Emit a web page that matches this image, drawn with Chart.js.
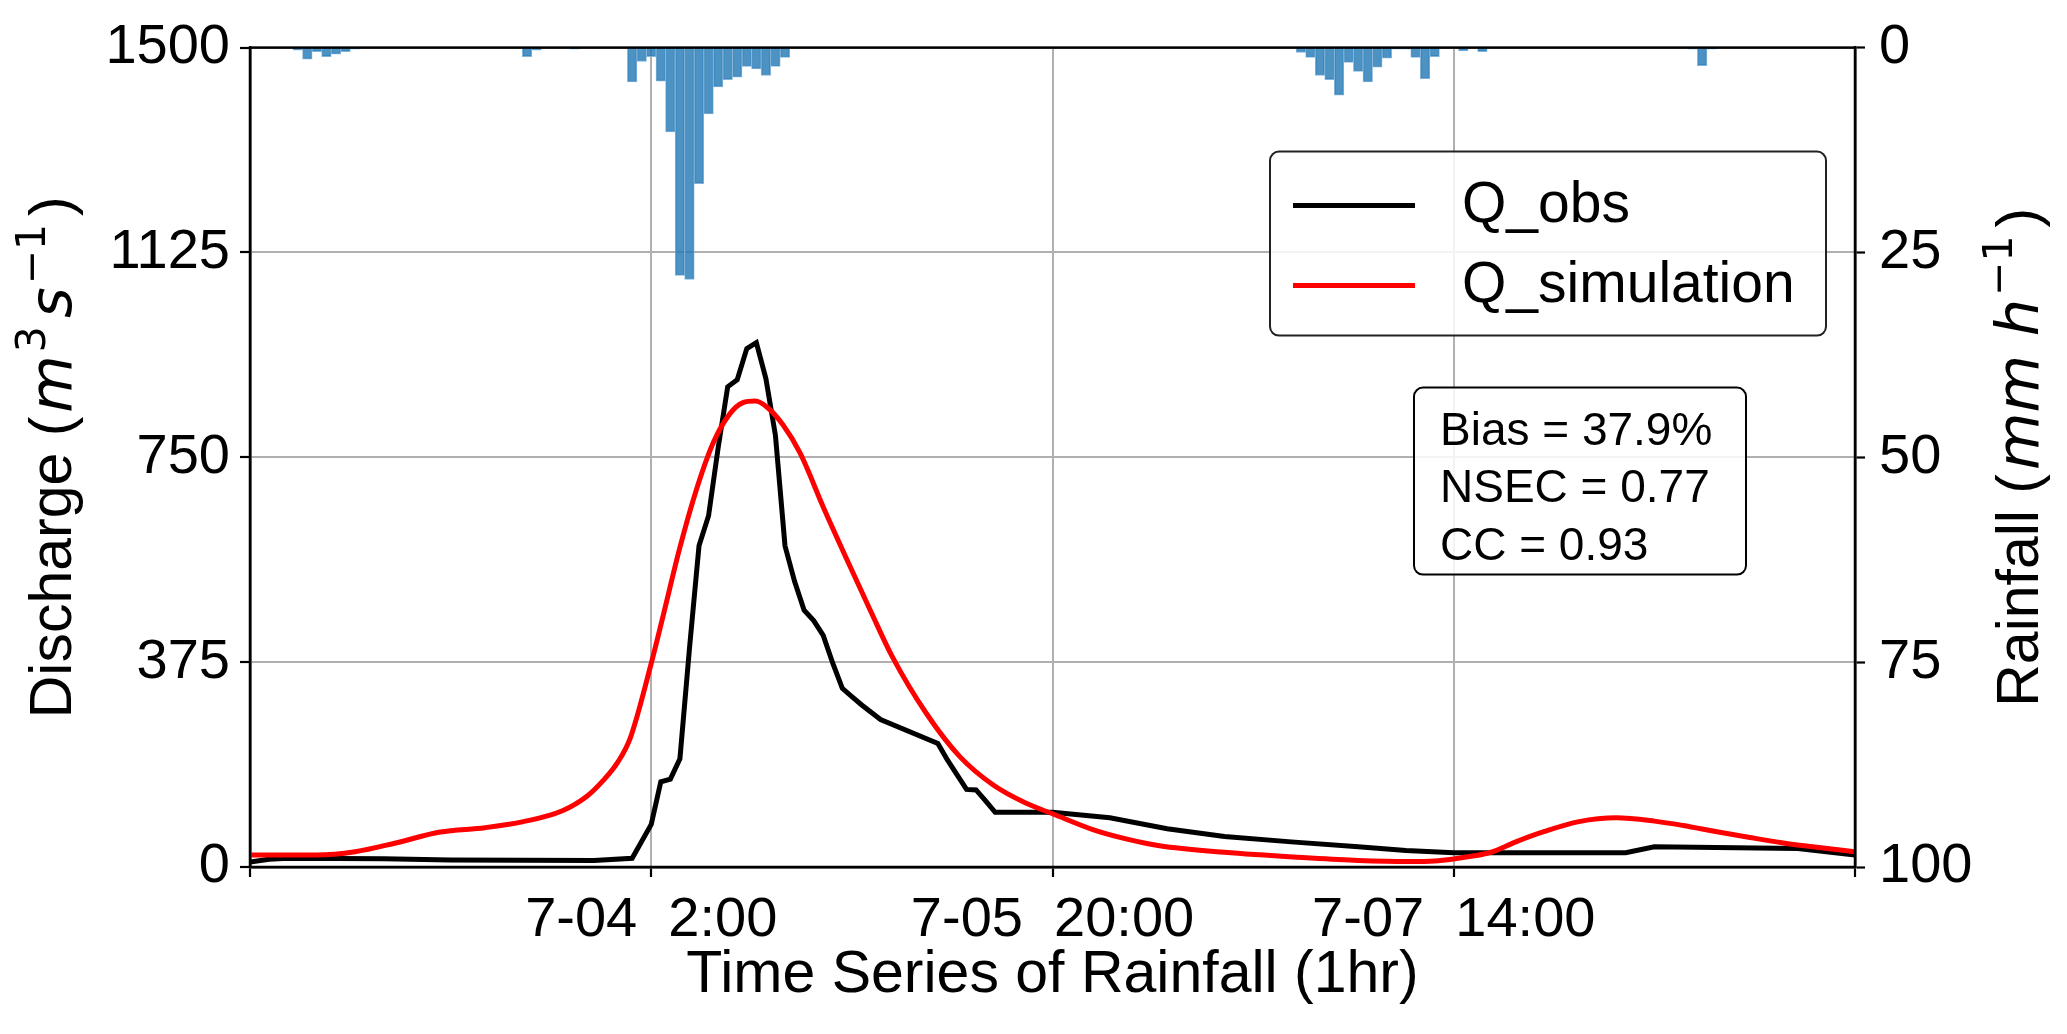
<!DOCTYPE html>
<html>
<head>
<meta charset="utf-8">
<script src="https://cdn.jsdelivr.net/npm/chart.js@4.4.1/dist/chart.umd.min.js"></script>
<style>
  html, body { margin: 0; padding: 0; background: #fff; overflow: hidden; }
  #wrap { position: relative; width: 2067px; height: 1034px; }
</style>
</head>
<body>
<div id="wrap"><canvas id="flowChart"></canvas></div>
<script>
// x values are hours counted from 7-02 08:00 (1 hr steps)
const rainHours = [5, 6, 7, 8, 9, 10, 11, 29, 30, 34,
  40, 41, 42, 43, 44, 45, 46, 47, 48, 49, 50, 51, 52, 53, 54, 55, 56,
  110, 111, 112, 113, 114, 115, 116, 117, 118, 119, 120, 121, 122, 123, 124, 125, 127, 129,
  151, 152, 153];
const rainMm = [0.3, 1.4, 0.5, 1.1, 0.8, 0.5, 0.2, 1.1, 0.3, 0.2,
  4.2, 1.7, 1.1, 4.1, 10.3, 27.8, 28.3, 16.6, 8.1, 4.8, 3.9, 3.6, 2.3, 2.6, 3.4, 2.3, 1.2,
  0.6, 1.2, 3.4, 3.9, 5.8, 1.8, 2.9, 4.2, 2.4, 1.3, 0.2, 0.2, 1.2, 3.8, 1.1, 0.1, 0.4, 0.5,
  0.2, 2.2, 0.2];

const obsHours = [0, 2, 4, 14, 21, 36, 40, 42, 43, 44, 45, 46, 47, 48, 49, 50, 51, 52, 53, 54,
  55, 56, 57, 58, 59, 60, 61, 62, 63, 64, 66, 72, 73, 74, 75, 76, 77, 78, 84, 90,
  96, 102, 109, 116, 121, 126, 144, 147, 162, 168];
const obsFlow = [9, 14, 16, 15, 13, 12, 16, 78, 156, 161, 198, 400, 588, 643, 767, 879, 892, 949, 960, 894,
  790, 588, 523, 470, 451, 424, 373, 327, 312, 297, 270, 226, 196, 169, 142, 141, 121, 100, 100, 90,
  70, 56, 46, 37, 30, 26, 26, 37, 34, 22];

const simHours = [0, 4, 7, 11, 15.25, 19.9, 24.6, 28.6, 32.7, 35.3, 37, 38.5, 39.8, 42, 43.3, 45, 46.75, 48.5, 50.2,
  51.6, 52.9, 54.1, 55.8, 57.6, 60, 62.5, 64.9, 67.2, 70.8, 74.3, 77.8, 81.2, 84, 88.3, 91.8, 95.2,
  102, 110.6, 116, 121.3, 124, 126.1, 128, 129.9, 132.5, 135.5, 139.1, 143, 147, 150, 153.4, 157, 160.5, 164, 168];
const simFlow = [22, 22, 22, 28, 44, 64, 72, 83, 103, 130, 159, 192, 236, 373, 464, 585, 692, 777, 829,
  850, 853, 842, 809, 757, 659, 562, 471, 386, 281, 202, 150, 117, 97.5, 68, 51, 39,
  27, 17, 12, 10, 11, 15, 20, 27, 46, 65, 83, 90, 84, 76, 65, 54, 44, 36, 28];

const xTickHours = [0, 42, 84, 126, 168];
const xTickLabels = ['', '7-04  2:00', '7-05  20:00', '7-07  14:00', ''];
const dischargeTicks = [0, 375, 750, 1125, 1500];
const rainTicks = [0, 25, 50, 75, 100];
const statsLines = ['Bias = 37.9%', 'NSEC = 0.77', 'CC = 0.93'];

const SANS = "'Liberation Sans', Arial, sans-serif";
const MATH = "'DejaVu Sans', sans-serif";

function toPoints(xs, ys) {
  return xs.map((x, i) => ({ x: x, y: ys[i] }));
}

// text made of pieces (normal, italic, superscript), optionally turned 90 degrees
function drawRich(ctx, parts, cx, cy, rotate) {
  ctx.save();
  ctx.translate(cx, cy);
  if (rotate) ctx.rotate(-Math.PI / 2);
  ctx.fillStyle = '#000';
  ctx.textBaseline = 'alphabetic';
  ctx.textAlign = 'left';
  let total = 0;
  parts.forEach(p => {
    ctx.font = p.font;
    p.w = ctx.measureText(p.text).width + (p.gap || 0);
    total += p.w;
  });
  let pos = -total / 2;
  parts.forEach(p => {
    ctx.font = p.font;
    ctx.fillText(p.text, pos, 21 - (p.rise || 0));
    pos += p.w;
  });
  ctx.restore();
}

function roundBox(ctx, x, y, w, h, r, fill, stroke) {
  ctx.beginPath();
  ctx.roundRect(x, y, w, h, r);
  ctx.fillStyle = fill;
  ctx.fill();
  ctx.lineWidth = 2;
  ctx.strokeStyle = stroke;
  ctx.stroke();
}

const decorPlugin = {
  id: 'decor',
  afterDatasetsDraw(chart) {
    const { ctx, chartArea: a } = chart;
    ctx.save();
    ctx.strokeStyle = '#000';
    ctx.lineWidth = 2.5;
    ctx.strokeRect(a.left, a.top, a.right - a.left, a.bottom - a.top);
    ctx.restore();
  },
  afterDraw(chart) {
    const { ctx, chartArea: a } = chart;
    const norm = '59px ' + SANS;
    const ital = 'italic 59px ' + MATH;
    const sup = '41px ' + MATH;

    drawRich(ctx, [
      { text: 'Discharge (', font: norm, gap: 4 },
      { text: 'm', font: ital, gap: 3 },
      { text: '3', font: sup, rise: 26, gap: 8 },
      { text: 's', font: ital, gap: 3 },
      { text: '\u22121', font: sup, rise: 26, gap: 8 },
      { text: ')', font: norm }
    ], 50, (a.top + a.bottom) / 2, true);

    drawRich(ctx, [
      { text: 'Rainfall (', font: norm, gap: 4 },
      { text: 'mm h', font: ital, gap: 3 },
      { text: '\u22121', font: sup, rise: 26, gap: 8 },
      { text: ')', font: norm }
    ], 2017, (a.top + a.bottom) / 2, true);

    drawRich(ctx, [
      { text: 'Time Series of Rainfall (1hr)', font: norm }
    ], (a.left + a.right) / 2, 971, false);

    // legend
    const lx = a.right - 585, ly = a.top + 104;
    roundBox(ctx, lx, ly, 556, 184, 9, 'rgba(255,255,255,0.85)', '#222');
    const lineSets = chart.data.datasets.filter(d => d.type === 'line');
    lineSets.forEach((d, i) => {
      const yy = ly + 54 + i * 80;
      ctx.save();
      ctx.strokeStyle = d.borderColor;
      ctx.lineWidth = 5;
      ctx.beginPath();
      ctx.moveTo(lx + 23, yy);
      ctx.lineTo(lx + 145, yy);
      ctx.stroke();
      ctx.fillStyle = '#000';
      ctx.font = '57px ' + SANS;
      ctx.textBaseline = 'alphabetic';
      ctx.fillText(d.label, lx + 192, yy + 16);
      ctx.restore();
    });

    // goodness-of-fit box
    const sx = a.right - 441, sy = a.top + 340;
    roundBox(ctx, sx, sy, 332, 187, 9, 'rgba(255,255,255,0.85)', '#000');
    ctx.save();
    ctx.fillStyle = '#000';
    ctx.font = '46px ' + SANS;
    ctx.textBaseline = 'alphabetic';
    statsLines.forEach((t, i) => ctx.fillText(t, sx + 26, sy + 57 + i * 57.5));
    ctx.restore();
  }
};

const tickFont = { family: SANS, size: 56 };
const gridStyle = { color: '#b0b0b0', lineWidth: 2, tickColor: '#000', tickWidth: 2.2, tickLength: 10, offset: false };

new Chart(document.getElementById('flowChart'), {
  type: 'line',
  data: {
    datasets: [
      {
        type: 'line',
        label: 'Q_obs',
        data: toPoints(obsHours, obsFlow),
        yAxisID: 'y',
        borderColor: '#000000',
        borderWidth: 5,
        pointRadius: 0,
        tension: 0,
        order: 2
      },
      {
        type: 'line',
        label: 'Q_simulation',
        data: toPoints(simHours, simFlow),
        yAxisID: 'y',
        borderColor: '#ff0000',
        borderWidth: 5,
        pointRadius: 0,
        cubicInterpolationMode: 'monotone',
        order: 1
      },
      {
        type: 'bar',
        label: 'Rainfall',
        data: toPoints(rainHours, rainMm),
        yAxisID: 'y2',
        backgroundColor: 'rgba(31,119,180,0.8)',
        borderColor: 'rgba(120,172,214,0.9)',
        borderWidth: 1,
        barPercentage: 1,
        categoryPercentage: 1,
        order: 3
      }
    ]
  },
  options: {
    responsive: true,
    maintainAspectRatio: false,
    devicePixelRatio: 1,
    animation: false,
    layout: { padding: { top: 43, left: 0, right: 0, bottom: 0 } },
    plugins: {
      legend: { display: false },
      tooltip: { enabled: false }
    },
    scales: {
      x: {
        type: 'linear',
        min: 0,
        max: 168,
        offset: false,
        afterBuildTicks: s => { s.ticks = xTickHours.map(v => ({ value: v })); },
        afterFit: s => { s.height = 167; },
        ticks: {
          autoSkip: false,
          maxRotation: 0,
          padding: 10,
          color: '#000',
          font: tickFont,
          callback: v => xTickLabels[xTickHours.indexOf(v)]
        },
        grid: gridStyle,
        border: { color: '#000', width: 2.5 }
      },
      y: {
        position: 'left',
        min: 0,
        max: 1500,
        afterBuildTicks: s => { s.ticks = dischargeTicks.map(v => ({ value: v })); },
        afterFit: s => { s.width = 250; },
        ticks: { padding: 10, color: '#000', font: tickFont, callback: v => String(v) },
        grid: gridStyle,
        border: { color: '#000', width: 2.5 }
      },
      y2: {
        position: 'right',
        min: 0,
        max: 100,
        reverse: true,
        afterBuildTicks: s => { s.ticks = rainTicks.map(v => ({ value: v })); },
        afterFit: s => { s.width = 212; },
        ticks: { padding: 14, color: '#000', font: tickFont, callback: v => String(v) },
        grid: { drawOnChartArea: false, tickColor: '#000', tickWidth: 2.2, tickLength: 10, offset: false },
        border: { color: '#000', width: 2.5 }
      }
    }
  },
  plugins: [decorPlugin]
});
</script>
</body>
</html>
